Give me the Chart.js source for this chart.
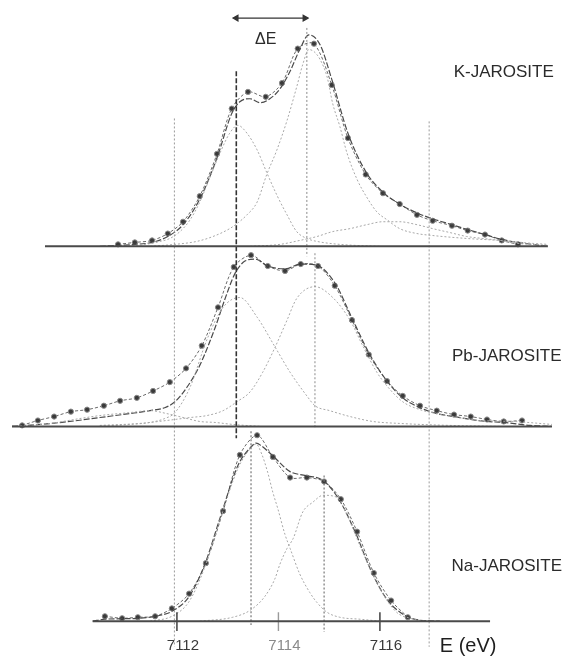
<!DOCTYPE html>
<html>
<head>
<meta charset="utf-8">
<script src="https://cdn.jsdelivr.net/npm/chart.js@4.4.1/dist/chart.umd.min.js"></script>
<style>
  html, body { margin: 0; padding: 0; background: #ffffff; }
  #wrap { width: 568px; height: 656px; position: relative; }
</style>
</head>
<body>
<div id="wrap"><canvas id="c"></canvas></div>
<script>
// ---------------- DATA (energies in eV, intensities in arbitrary units) ----------------
const tickValues = [7112, 7114, 7116];
const tickLabels = ['7112', '7114', '7116'];
const axisTitle = 'E (eV)';
const panelNames = ['K-JAROSITE', 'Pb-JAROSITE', 'Na-JAROSITE'];
const deltaLabel = 'ΔE';

// K-jarosite
const kDataE = [7110.84,7111.17,7111.51,7111.82,7112.12,7112.45,7112.79,7113.08,7113.40,7113.75,7114.07,7114.38,7114.70,7115.05,7115.37,7115.72,7116.06,7116.39,7116.73,7117.04,7117.42,7117.73,7118.07,7118.40,7118.72];
const kDataI = [2,4,6,13,25,51,94,140,157,152,166,201,206,164,110,73,54,43,32,26,21,16,12,6,2];
const kFitE  = [7110.48,7111.17,7111.51,7111.82,7112.12,7112.45,7112.79,7113.08,7113.24,7113.44,7113.64,7113.83,7114.03,7114.23,7114.42,7114.60,7114.82,7115.05,7115.37,7115.72,7116.06,7116.39,7116.73,7117.04,7117.42,7117.73,7118.07,7118.40,7118.72,7119.31];
const kFitI  = [0,2,4,10,22,48,90,135,147,150,146,150,160,178,200,215,205,170,115,76,55,43,34,28,22,17,12,7,4,0];
const kC1E = [7110.88,7111.37,7111.67,7111.86,7112.06,7112.26,7112.45,7112.65,7112.85,7113.04,7113.20,7113.38,7113.58,7113.77,7113.97,7114.17,7114.36,7114.56,7114.76,7115.21,7116.00];
const kC1I = [0,2,5,8,15,27,45,70,95,115,123,115,98,75,52,32,15,8,5,2,0];
const kC2E = [7111.47,7111.96,7112.39,7112.71,7113.04,7113.18,7113.38,7113.58,7113.77,7113.97,7114.17,7114.36,7114.48,7114.60,7114.70,7114.82,7114.96,7115.07,7115.21,7115.35,7115.55,7115.74,7115.94,7116.14,7116.39,7116.73,7117.04,7117.71,7118.36,7119.01,7119.31];
const kC2I = [0,2,5,10,18,23,32,45,73,98,128,162,185,200,198,190,172,145,122,95,68,50,35,27,18,13,11,8,6,3,2];
const kC3E = [7113.44,7114.03,7114.42,7114.76,7115.07,7115.41,7115.74,7116.06,7116.39,7116.73,7117.04,7117.38,7117.71,7118.03,7118.36,7118.70,7119.01,7119.31];
const kC3I = [0,2,6,10,15,18,22,25,25,22,18,14,10,8,6,3,2,1];

// Pb-jarosite
const pbDataE = [7108.95,7109.26,7109.58,7109.91,7110.23,7110.56,7110.88,7111.21,7111.53,7111.86,7112.18,7112.49,7112.81,7113.12,7113.46,7113.79,7114.13,7114.44,7114.78,7115.11,7115.45,7115.78,7116.14,7116.45,7116.79,7117.12,7117.46,7117.79,7118.11,7118.44,7118.80];
const pbDataI = [1,6,10,15,17,21,26,29,36,45,59,82,121,162,174,163,158,165,163,143,108,73,46,31,21,16,12,10,7,5,6];
const pbFitE  = [7108.75,7109.30,7109.89,7110.48,7111.07,7111.47,7111.76,7111.96,7112.20,7112.45,7112.75,7112.95,7113.14,7113.34,7113.54,7113.79,7114.13,7114.44,7114.74,7115.11,7115.45,7115.78,7116.14,7116.45,7116.79,7117.12,7117.46,7117.79,7118.11,7118.44,7118.96,7119.39];
const pbFitI  = [0,2,5,9,13,16,19,25,40,62,100,130,155,168,170,163,160,165,164,146,110,75,46,29,19,13,10,7,5,4,1,0];
const pbC0E = [7108.75,7109.50,7110.09,7110.48,7111.07,7111.47,7111.80,7112.20,7112.45,7112.75,7113.10,7113.64];
const pbC0I = [0,3,8,11,14,16,13,8,5,4,2,0];
const pbC1E = [7110.48,7111.07,7111.47,7111.76,7111.96,7112.26,7112.59,7112.91,7113.24,7113.58,7113.93,7114.23,7114.56,7114.72,7115.01,7115.41,7115.86,7116.39,7117.38,7118.36];
const pbC1I = [0,2,4,8,14,40,88,121,131,111,81,55,31,21,16,10,5,3,1,0];
const pbC2E = [7110.48,7111.27,7111.80,7112.26,7112.59,7112.91,7113.18,7113.44,7113.69,7113.93,7114.17,7114.36,7114.72,7115.07,7115.41,7115.67,7115.94,7116.14,7116.45,7116.79,7117.12,7117.44,7117.97,7118.62,7119.39];
const pbC2I = [1,3,6,9,11,16,25,35,55,80,108,130,142,131,108,81,55,41,25,17,13,10,6,5,2];

// Na-jarosite
const naDataE = [7110.58,7110.92,7111.23,7111.57,7111.90,7112.24,7112.57,7112.91,7113.24,7113.58,7113.89,7114.23,7114.56,7114.90,7115.23,7115.55,7115.88,7116.22,7116.55];
const naDataI = [5,3,4,5,13,28,59,112,169,189,167,146,146,142,124,91,49,21,4];
const naFitE  = [7110.34,7110.58,7111.27,7111.67,7111.90,7112.24,7112.55,7112.85,7113.20,7113.44,7113.56,7113.67,7113.89,7114.23,7114.54,7114.88,7115.19,7115.51,7115.82,7116.14,7116.49,7116.79,7117.18];
const naFitI  = [0,2,3,6,10,25,58,105,158,176,181,178,168,152,148,143,124,91,52,22,6,1,0];
const naC1E = [7111.47,7111.90,7112.24,7112.55,7112.85,7113.20,7113.44,7113.56,7113.67,7113.79,7113.89,7113.99,7114.13,7114.23,7114.42,7114.62,7114.76,7114.96,7115.21,7115.61,7116.00];
const naC1I = [0,5,20,55,103,155,175,180,170,151,131,114,88,74,48,29,19,9,4,2,0];
const naC2E = [7112.45,7113.10,7113.44,7113.73,7113.93,7114.03,7114.17,7114.29,7114.48,7114.68,7114.88,7115.15,7115.35,7115.67,7116.00,7116.33,7116.59,7116.89];
const naC2I = [0,4,11,25,43,58,74,84,111,121,128,126,108,69,33,9,3,0];

// energy span of each panel's zero line
const kBaseRange  = [7109.40, 7119.31];
const pbBaseRange = [7108.75, 7119.39];
const naBaseRange = [7110.34, 7118.17];

// reference energies (vertical marker lines) and the ΔE bracket
const refEnergies = [7111.95, 7113.17, 7114.56, 7114.72, 7113.46, 7114.90, 7116.97];
const deltaE = [7113.17, 7114.52];

// ---------------- LAYOUT (not data) ----------------
const Y_MIN = -30, Y_MAX = 626;
const OFF = { K: 381, Pb: 198, Na: 0 };
const X_MIN = 7108.75, X_MAX = 7119.45;
const refSpan = [[511,-26],[559,186],[603,371],[374,196],[193,-4],[148,-11],[508,-26]];
const refStyle = ['#9a9a9a','#333333','#8a8a8a','#8a8a8a','#777777','#777777','#9a9a9a'];
const refWidth = [1,1.6,1,1,1.2,1.2,1];
const tickSpan = [9, -10];
const tickColors = ['#333333', '#9a9a9a', '#333333'];
const deltaY = 613;
const labelPos = [{e:7118.44,u:558},{e:7118.50,u:269},{e:7118.50,u:56}];
const deltaLabelPos = {e:7113.75,u:591};
const titleTick = 7117.62;

function pts(E, I, off) { return E.map((e, i) => ({ x: e, y: I[i] + off })); }

const datasets = [];
function comp(E, I, off) {
  datasets.push({ data: pts(E, I, off), borderColor: '#a8a8a8', borderWidth: 1, borderDash: [2, 2],
    pointRadius: 0, cubicInterpolationMode: 'monotone', fill: false });
}
function fit(E, I, off) {
  datasets.push({ data: pts(E, I, off), borderColor: '#4a4a4a', borderWidth: 1.2, borderDash: [6, 2],
    pointRadius: 0, cubicInterpolationMode: 'monotone', fill: false });
}
function meas(E, I, off) {
  datasets.push({ data: pts(E, I, off), borderColor: '#6a6a6a', borderWidth: 1, borderDash: [3, 2],
    pointRadius: 2.6, pointBackgroundColor: '#3a3a3a', pointBorderColor: '#8a8a8a', pointBorderWidth: 1,
    tension: 0.3, fill: false });
}
function base(R, off) {
  datasets.push({ data: [{ x: R[0], y: off }, { x: R[1], y: off }], borderColor: '#4a4a4a', borderWidth: 2,
    pointRadius: 0, fill: false });
}

// zero lines
base(kBaseRange, OFF.K); base(pbBaseRange, OFF.Pb); base(naBaseRange, OFF.Na);
// axis tick marks crossing the energy axis
tickValues.forEach((v, i) => {
  datasets.push({ data: [{ x: v, y: tickSpan[0] }, { x: v, y: tickSpan[1] }], borderColor: tickColors[i],
    borderWidth: 1.4, pointRadius: 0, fill: false });
});
// reference lines
refEnergies.forEach((e, i) => {
  datasets.push({ data: [{ x: e, y: refSpan[i][0] }, { x: e, y: refSpan[i][1] }], borderColor: refStyle[i],
    borderWidth: refWidth[i], borderDash: i === 1 ? [5, 2] : [2, 2], pointRadius: 0, fill: false });
});
// components
comp(kC1E, kC1I, OFF.K); comp(kC2E, kC2I, OFF.K); comp(kC3E, kC3I, OFF.K);
comp(pbC0E, pbC0I, OFF.Pb); comp(pbC1E, pbC1I, OFF.Pb); comp(pbC2E, pbC2I, OFF.Pb);
comp(naC1E, naC1I, OFF.Na); comp(naC2E, naC2I, OFF.Na);
// fits
fit(kFitE, kFitI, OFF.K); fit(pbFitE, pbFitI, OFF.Pb); fit(naFitE, naFitI, OFF.Na);
// measured
meas(kDataE, kDataI, OFF.K); meas(pbDataE, pbDataI, OFF.Pb); meas(naDataE, naDataI, OFF.Na);
// ΔE bracket
datasets.push({ data: [{ x: deltaE[0], y: deltaY }, { x: deltaE[1], y: deltaY }], borderColor: '#333', borderWidth: 1.3,
  pointStyle: 'triangle', pointRadius: 3.2, pointRotation: [-90, 90], pointBackgroundColor: '#333', pointBorderColor: '#333', fill: false });

const textPlugin = {
  id: 'texts',
  afterDatasetsDraw(chart) {
    const { ctx, scales: { x, y } } = chart;
    ctx.save();
    ctx.fillStyle = '#2b2b2b';
    ctx.textAlign = 'center';
    ctx.textBaseline = 'middle';
    ctx.font = '17px "Liberation Sans", Arial, sans-serif';
    panelNames.forEach((t, i) => ctx.fillText(t, x.getPixelForValue(labelPos[i].e), y.getPixelForValue(labelPos[i].u)));
    ctx.font = '16px "Liberation Sans", Arial, sans-serif';
    ctx.fillText(deltaLabel, x.getPixelForValue(deltaLabelPos.e), y.getPixelForValue(deltaLabelPos.u));
    ctx.restore();
  }
};

new Chart(document.getElementById('c'), {
  type: 'line',
  data: { datasets },
  plugins: [textPlugin],
  options: {
    responsive: true,
    maintainAspectRatio: false,
    animation: false,
    layout: { padding: { left: 12, right: 13, top: 0, bottom: 0 } },
    plugins: { legend: { display: false }, tooltip: { enabled: false } },
    scales: {
      x: {
        type: 'linear', min: X_MIN, max: X_MAX,
        position: { y: 0 },
        afterBuildTicks: (s) => { s.ticks = tickValues.concat([titleTick]).map(v => ({ value: v })); },
        border: { display: false },
        grid: { display: false },
        ticks: {
          autoSkip: false, maxRotation: 0, padding: 8, labelOffset: 6,
          color: (c) => (c.index === 3 ? '#1e1e1e' : (c.index === 1 ? '#8a8a8a' : '#3a3a3a')),
          font: (c) => (c.index === 3
            ? { family: '"Liberation Sans", Arial, sans-serif', size: 20, lineHeight: 0.9 }
            : { family: '"Liberation Sans", Arial, sans-serif', size: 15 }),
          callback: (v, i) => (i < tickLabels.length ? tickLabels[i] : axisTitle)
        }
      },
      y: { type: 'linear', min: Y_MIN, max: Y_MAX, display: false }
    }
  }
});
</script>
</body>
</html>
